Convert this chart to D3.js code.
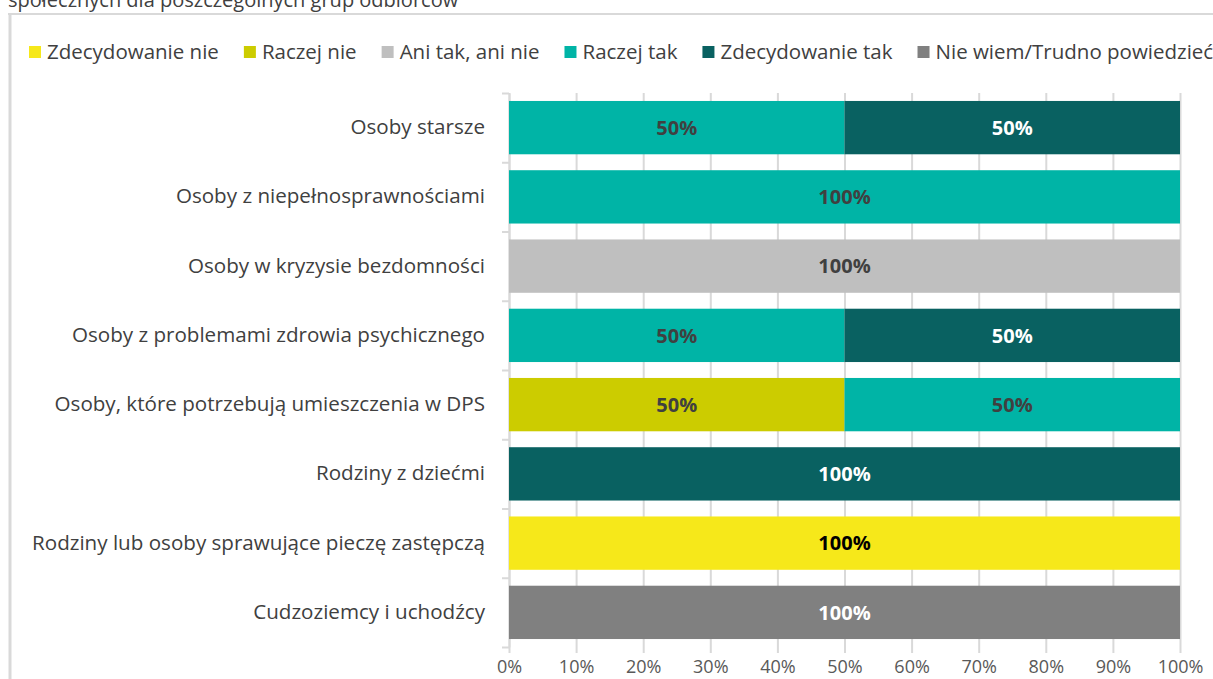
<!DOCTYPE html>
<html>
<head>
<meta charset="utf-8">
<script src="https://cdn.jsdelivr.net/npm/d3@7"></script>
<style>
  html, body { margin: 0; padding: 0; background: #fff; }
  svg { display: block; font-family: "Open Sans", "Lato", sans-serif; }
</style>
</head>
<body>
<svg id="chart" width="1213" height="679"></svg>
<script>
// Categories (recipient groups), top to bottom
const categories = [
  "Osoby starsze",
  "Osoby z niepełnosprawnościami",
  "Osoby w kryzysie bezdomności",
  "Osoby z problemami zdrowia psychicznego",
  "Osoby, które potrzebują umieszczenia w DPS",
  "Rodziny z dziećmi",
  "Rodziny lub osoby sprawujące pieczę zastępczą",
  "Cudzoziemcy i uchodźcy"
];

// Answer shares (%) per category
const zdecydowanieNie = [0, 0, 0, 0, 0, 0, 100, 0];
const raczejNie       = [0, 0, 0, 0, 50, 0, 0, 0];
const aniTakAniNie    = [0, 0, 100, 0, 0, 0, 0, 0];
const raczejTak       = [50, 100, 0, 50, 50, 0, 0, 0];
const zdecydowanieTak = [50, 0, 0, 50, 0, 100, 0, 0];
const nieWiem         = [0, 0, 0, 0, 0, 0, 0, 100];

const seriesNames = ["Zdecydowanie nie", "Raczej nie", "Ani tak, ani nie", "Raczej tak", "Zdecydowanie tak", "Nie wiem/Trudno powiedzieć"];
const seriesValues = [zdecydowanieNie, raczejNie, aniTakAniNie, raczejTak, zdecydowanieTak, nieWiem];
const seriesColors = ["#f6e81a", "#cccc00", "#bfbfbf", "#00b4a6", "#096161", "#808080"];
const labelColors  = ["#000000", "#404040", "#404040", "#404040", "#ffffff", "#ffffff"];

const xTicks = [0, 10, 20, 30, 40, 50, 60, 70, 80, 90, 100];
const titleLine = "społecznych dla poszczególnych grup odbiorców";

const svg = d3.select("#chart");
const W = 1213, H = 679;
const textColor = "#404040";

// Title (second line) and chart frame
svg.append("text")
  .attr("x", 8).attr("y", 7)
  .attr("font-size", 20).attr("fill", textColor)
  .text(titleLine);
svg.append("line").attr("x1", 8).attr("x2", W).attr("y1", 14).attr("y2", 14)
  .attr("stroke", "#d9d9d9").attr("stroke-width", 2);
svg.append("line").attr("x1", 10).attr("x2", 10).attr("y1", 13).attr("y2", H)
  .attr("stroke", "#d9d9d9").attr("stroke-width", 3);

// Rows as table for stacking
const rows = categories.map((c, i) => {
  const r = { category: c };
  seriesNames.forEach((s, k) => r[s] = seriesValues[k][i]);
  return r;
});
const stacked = d3.stack().keys(seriesNames)(rows);

const plot = { left: 509, right: 1180, top: 93, bottom: 647 };
const x = d3.scaleLinear().domain([0, 100]).range([plot.left, plot.right]);
const y = d3.scaleBand().domain(categories).range([plot.top, plot.bottom]).paddingInner(0.23).paddingOuter(0.115);
const yEdge = d3.scaleLinear().domain([0, categories.length]).range([plot.top, plot.bottom]);

// Vertical gridlines, running a little below the plot as tick marks
const grid = svg.append("g").attr("transform", `translate(0,${plot.top})`)
  .call(d3.axisTop(x).tickValues(xTicks).tickSize(-(plot.bottom - plot.top + 6)).tickFormat(""));
grid.select(".domain").remove();
grid.selectAll("line").attr("stroke", "#d9d9d9").attr("stroke-width", 2);

// Category axis line with boundary ticks
const yAxisLine = svg.append("g").attr("transform", `translate(${plot.left},0)`)
  .call(d3.axisLeft(yEdge).tickValues(d3.range(0, categories.length + 1)).tickSize(7).tickSizeOuter(0).tickFormat(""));
yAxisLine.selectAll("line, path").attr("stroke", "#d9d9d9").attr("stroke-width", 2);

// Category labels
const yAxis = svg.append("g").attr("transform", `translate(${plot.left - 24},0)`)
  .call(d3.axisLeft(y).tickSize(0).tickPadding(0));
yAxis.select(".domain").remove();
yAxis.selectAll("text").attr("font-size", 20.6).attr("fill", textColor)
  .attr("font-family", "'Open Sans', Lato, sans-serif");

// Percent axis labels
const xAxis = svg.append("g").attr("transform", `translate(0,${plot.bottom})`)
  .call(d3.axisBottom(x).tickValues(xTicks).tickSize(0).tickPadding(13).tickFormat(d => d + "%"));
xAxis.select(".domain").remove();
xAxis.selectAll("text").attr("font-size", 18).attr("fill", "#595959")
  .attr("font-family", "'Open Sans', Lato, sans-serif");

// Stacked bars
const layers = svg.append("g").selectAll("g").data(stacked).join("g")
  .attr("fill", (d, i) => seriesColors[i]);
layers.selectAll("rect").data(d => d.map(p => ({ p, cat: p.data.category })))
  .join("rect")
  .attr("x", d => x(d.p[0]))
  .attr("width", d => x(d.p[1]) - x(d.p[0]))
  .attr("y", d => y(d.cat))
  .attr("height", y.bandwidth());

// Value labels inside segments
stacked.forEach((layer, i) => {
  svg.append("g").selectAll("text")
    .data(layer.filter(p => p[1] - p[0] > 0))
    .join("text")
    .attr("x", p => x((p[0] + p[1]) / 2))
    .attr("y", p => y(p.data.category) + y.bandwidth() / 2)
    .attr("dy", "0.36em")
    .attr("text-anchor", "middle")
    .attr("font-size", 20).attr("font-weight", "bold")
    .attr("fill", labelColors[i])
    .text(p => (p[1] - p[0]) + "%");
});

// Legend
const legend = svg.append("g").attr("transform", "translate(29,52)");
let lx = 0;
seriesNames.forEach((name, i) => {
  const g = legend.append("g").attr("transform", `translate(${lx},0)`);
  g.append("rect").attr("x", 0).attr("y", -6).attr("width", 12).attr("height", 12).attr("fill", seriesColors[i]);
  const t = g.append("text").attr("x", 18).attr("y", 0).attr("dy", "0.36em")
    .attr("font-size", 20.5).attr("fill", textColor).text(name);
  lx += 18 + t.node().getComputedTextLength() + 25;
});
</script>
</body>
</html>
